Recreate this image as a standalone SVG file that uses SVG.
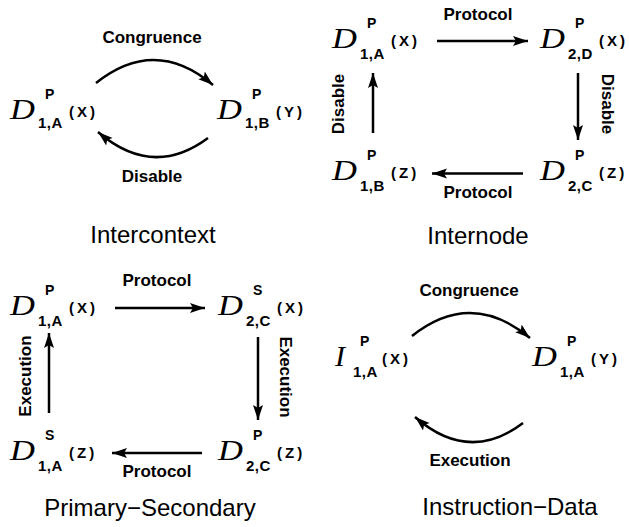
<svg xmlns="http://www.w3.org/2000/svg" width="629" height="527" viewBox="0 0 629 527">
<style>
.m{font-family:"Liberation Serif",serif;font-style:italic;font-size:30px;fill:#000}
.p{font-family:"Liberation Sans",Arial,sans-serif;font-weight:bold;font-size:14px;fill:#000}
.s{font-family:"Liberation Sans",Arial,sans-serif;font-weight:bold;font-size:15px;letter-spacing:0.5px;fill:#000}
.a{font-family:"Liberation Sans",Arial,sans-serif;font-weight:bold;font-size:15px;letter-spacing:3px;fill:#000}
.l{font-family:"Liberation Sans",Arial,sans-serif;font-weight:bold;font-size:17px;fill:#000;text-anchor:middle}
.t{font-family:"Liberation Sans",Arial,sans-serif;font-size:24px;fill:#000;text-anchor:middle}
.c{fill:none;stroke:#000;stroke-width:2.5}
</style>
<defs>
<marker id="ah" markerUnits="userSpaceOnUse" markerWidth="16" markerHeight="12" viewBox="0 0 16 12" refX="15" refY="6" orient="auto">
<path d="M0,1 L15,6 L0,11 L3,6 z" fill="#000"/>
</marker>
</defs>
<rect width="629" height="527" fill="#fff"/>

<!-- Panel 1: Intercontext -->
<g id="p1_n1" transform="translate(10,119)">
<text class="m" transform="scale(1.15,1)">D</text><text class="p" x="35" y="-20">P</text><text class="s" x="28" y="9">1,A</text><text class="a" x="59" y="-2">(X)</text>
</g>
<g id="p1_n2" transform="translate(217,119)">
<text class="m" transform="scale(1.15,1)">D</text><text class="p" x="35" y="-20">P</text><text class="s" x="28" y="9">1,B</text><text class="a" x="59" y="-2">(Y)</text>
</g>

<!-- Panel 2: Internode -->
<g id="p2_n1" transform="translate(332,48)">
<text class="m" transform="scale(1.15,1)">D</text><text class="p" x="35" y="-20">P</text><text class="s" x="28" y="11">1,A</text><text class="a" x="59" y="-2">(X)</text>
</g>
<g id="p2_n2" transform="translate(540,48)">
<text class="m" transform="scale(1.15,1)">D</text><text class="p" x="35" y="-20">P</text><text class="s" x="28" y="11">2,D</text><text class="a" x="59" y="-2">(X)</text>
</g>
<g id="p2_n3" transform="translate(332,180)">
<text class="m" transform="scale(1.15,1)">D</text><text class="p" x="35" y="-20">P</text><text class="s" x="28" y="11">1,B</text><text class="a" x="59" y="-2">(Z)</text>
</g>
<g id="p2_n4" transform="translate(540,180)">
<text class="m" transform="scale(1.15,1)">D</text><text class="p" x="35" y="-20">P</text><text class="s" x="28" y="11">2,C</text><text class="a" x="59" y="-2">(Z)</text>
</g>

<!-- Panel 3: Primary-Secondary -->
<g id="p3_n1" transform="translate(10,315)">
<text class="m" transform="scale(1.15,1)">D</text><text class="p" x="35" y="-20">P</text><text class="s" x="28" y="11">1,A</text><text class="a" x="59" y="-2">(X)</text>
</g>
<g id="p3_n2" transform="translate(218,315)">
<text class="m" transform="scale(1.15,1)">D</text><text class="p" x="35" y="-20">S</text><text class="s" x="28" y="11">2,C</text><text class="a" x="59" y="-2">(X)</text>
</g>
<g id="p3_n3" transform="translate(10,460)">
<text class="m" transform="scale(1.15,1)">D</text><text class="p" x="35" y="-20">S</text><text class="s" x="28" y="11">1,A</text><text class="a" x="59" y="-2">(Z)</text>
</g>
<g id="p3_n4" transform="translate(218,460)">
<text class="m" transform="scale(1.15,1)">D</text><text class="p" x="35" y="-20">P</text><text class="s" x="28" y="11">2,C</text><text class="a" x="59" y="-2">(Z)</text>
</g>

<!-- Panel 4: Instruction-Data -->
<g id="p4_n1" transform="translate(335,366)">
<text class="m">I</text><text class="p" x="25" y="-20">P</text><text class="s" x="18" y="11">1,A</text><text class="a" x="47" y="-2">(X)</text>
</g>
<g id="p4_n2" transform="translate(532,366)">
<text class="m" transform="scale(1.15,1)">D</text><text class="p" x="35" y="-20">P</text><text class="s" x="28" y="11">1,A</text><text class="a" x="59" y="-2">(Y)</text>
</g>

<!-- Connectors -->
<g id="connectors">
<path class="c" d="M96,83 Q155,36 213,85" marker-end="url(#ah)"/>
<path class="c" d="M208,138 Q153,179 98,132" marker-end="url(#ah)"/>
<path class="c" d="M437,41 L528,41" marker-end="url(#ah)"/>
<path class="c" d="M578,73 L578,140" marker-end="url(#ah)"/>
<path class="c" d="M523,173.5 L432,173.5" marker-end="url(#ah)"/>
<path class="c" d="M373,133 L373,73" marker-end="url(#ah)"/>
<path class="c" d="M115,308 L205,308" marker-end="url(#ah)"/>
<path class="c" d="M258,337 L258,420" marker-end="url(#ah)"/>
<path class="c" d="M202,453 L112,453" marker-end="url(#ah)"/>
<path class="c" d="M49,413 L49,333" marker-end="url(#ah)"/>
<path class="c" d="M412,336 Q471,289 530,338" marker-end="url(#ah)"/>
<path class="c" d="M523,423 Q469,464 415,417" marker-end="url(#ah)"/>
</g>

<!-- Labels -->
<g id="labels">
<text class="l" x="152" y="43">Congruence</text>
<text class="l" x="152" y="182">Disable</text>
<text class="l" x="478" y="20">Protocol</text>
<text class="l" x="478" y="198">Protocol</text>
<text class="l" transform="translate(344,104) rotate(-90)">Disable</text>
<text class="l" transform="translate(602,104) rotate(90)">Disable</text>
<text class="l" x="157" y="286">Protocol</text>
<text class="l" x="157" y="477">Protocol</text>
<text class="l" transform="translate(31,376) rotate(-90)">Execution</text>
<text class="l" transform="translate(280,377) rotate(90)">Execution</text>
<text class="l" x="469" y="296">Congruence</text>
<text class="l" x="470" y="466">Execution</text>
<text class="t" x="153" y="243">Intercontext</text>
<text class="t" x="478" y="244">Internode</text>
<text class="t" x="150" y="516">Primary−Secondary</text>
<text class="t" x="510" y="515">Instruction−Data</text>
</g>
</svg>
